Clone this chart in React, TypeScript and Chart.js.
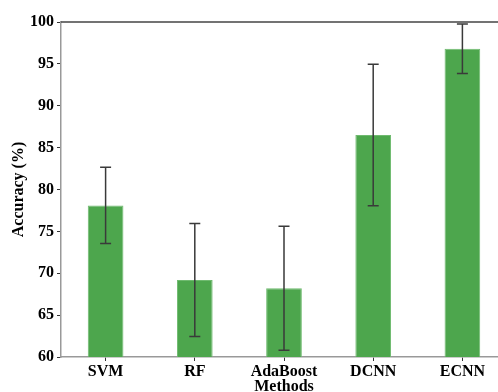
import React, { useEffect, useRef } from "react";
import { Chart, registerables } from "chart.js";

Chart.register(...registerables);

const methods = ["SVM", "RF", "AdaBoost", "DCNN", "ECNN"];
const accuracy = [78.1, 69.2, 68.2, 86.5, 96.8];
const stdDev = [4.55, 6.75, 7.4, 8.45, 2.95];
const yMin = 60;
const yMax = 100;
const yStep = 5;

const FONT = "'Liberation Serif', 'Times New Roman', serif";

const errorBarPlugin = {
  id: "errorBars",
  afterDatasetsDraw(chart: any) {
    const xs = chart.scales.x;
    const ys = chart.scales.y;
    const ctx = chart.ctx;
    ctx.save();
    ctx.strokeStyle = "#3a3a3a";
    ctx.lineWidth = 1.5;
    accuracy.forEach((v, i) => {
      const x = xs.getPixelForValue(i);
      const yt = ys.getPixelForValue(v + stdDev[i]);
      const yb = ys.getPixelForValue(v - stdDev[i]);
      ctx.beginPath();
      ctx.moveTo(x, yt);
      ctx.lineTo(x, yb);
      ctx.moveTo(x - 5.5, yt);
      ctx.lineTo(x + 5.5, yt);
      ctx.moveTo(x - 5.5, yb);
      ctx.lineTo(x + 5.5, yb);
      ctx.stroke();
    });
    ctx.restore();
  },
  afterDraw(chart: any) {
    const { ctx, chartArea } = chart;
    ctx.save();
    ctx.strokeStyle = "#444444";
    ctx.lineWidth = 1.5;
    ctx.beginPath();
    ctx.moveTo(chartArea.left, chartArea.top);
    ctx.lineTo(chartArea.right + 2, chartArea.top);
    ctx.stroke();
    ctx.restore();
  },
};

export default function App() {
  const ref = useRef<HTMLCanvasElement | null>(null);
  useEffect(() => {
    if (!ref.current) return;
    const chart = new Chart(ref.current, {
      type: "bar",
      data: {
        labels: methods,
        datasets: [
          {
            data: accuracy,
            backgroundColor: "#4da64d",
            borderColor: "#6fba6f",
            borderWidth: 1,
            barPercentage: 0.4,
            categoryPercentage: 1.0,
          },
        ],
      },
      options: {
        responsive: false,
        animation: false,
        devicePixelRatio: 1,
        layout: { padding: { top: 22, left: 0, right: 0, bottom: 0 } },
        plugins: { legend: { display: false }, tooltip: { enabled: false } },
        scales: {
          x: {
            offset: true,
            grid: {
              offset: false,
              drawOnChartArea: false,
              drawTicks: true,
              tickLength: 4,
              color: "#333",
            },
            border: { color: "#999", width: 1.5 },
            ticks: {
              color: "#000",
              padding: 1,
              maxRotation: 0,
              font: { family: FONT, size: 16, weight: "bold" },
            },
            title: {
              display: true,
              text: "Methods",
              color: "#000",
              padding: 0,
              font: { family: FONT, size: 16, weight: "bold", lineHeight: 0.7 },
            },
            afterFit(scale: any) {
              scale.height = 35;
            },
          },
          y: {
            min: yMin,
            max: yMax,
            grid: {
              drawOnChartArea: false,
              drawTicks: true,
              tickLength: 4,
              color: "#333",
            },
            border: { color: "#999", width: 1.5 },
            ticks: {
              stepSize: yStep,
              color: "#000",
              padding: 3,
              font: { family: FONT, size: 16, weight: "bold" },
            },
            title: {
              display: true,
              text: "Accuracy (%)",
              color: "#000",
              padding: { top: 9, bottom: 0 },
              font: { family: FONT, size: 16, weight: "bold" },
            },
            afterFit(scale: any) {
              scale.width = 61;
            },
          },
        },
      },
      plugins: [errorBarPlugin],
    });
    return () => chart.destroy();
  }, []);

  return (
    <div
      style={{
        position: "fixed",
        left: 0,
        top: 0,
        width: 498,
        height: 392,
        overflow: "hidden",
        background: "#fff",
      }}
    >
      <canvas ref={ref} width={507} height={392} style={{ display: "block" }} />
    </div>
  );
}
